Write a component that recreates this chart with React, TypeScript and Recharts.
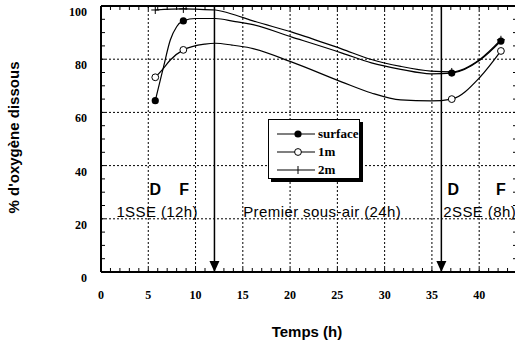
import React from 'react';
import { LineChart, Line, XAxis, YAxis, ReferenceLine, ReferenceDot, Legend } from 'recharts';

// Measurement times (marked points)
const markerTimes = [5.74, 8.71, 37.1, 42.3];

// Curves
const surfaceTimes = [5.74, 6.62, 7.33, 8.0, 8.71, 10.0, 12.1, 14.2, 15.8, 20.2, 25.5, 28.6, 31.7, 34.9, 37.1, 40.1, 42.3];
const surfaceValues = [64.4, 77.2, 87.2, 92.2, 94.4, 95.3, 95.3, 94.1, 93.2, 88.3, 82.3, 78.6, 76.2, 74.5, 74.8, 79.7, 86.8];

const m1Times = [5.74, 6.45, 7.33, 8.71, 11.0, 12.1, 13.85, 15.8, 20.2, 25.5, 28.6, 31.7, 34.9, 37.1, 40.1, 42.3];
const m1Values = [73.2, 75.9, 79.7, 83.5, 85.7, 86.0, 85.3, 84.2, 78.9, 71.4, 67.3, 64.7, 64.3, 65.0, 73.3, 83.1];

const m2Times = [5.74, 8.71, 10.0, 12.1, 14.2, 15.8, 20.2, 25.5, 28.6, 31.7, 34.9, 37.1, 40.1, 42.3];
const m2Values = [98.5, 98.9, 98.8, 98.5, 96.6, 94.7, 90.2, 83.8, 79.9, 77.3, 75.5, 75.2, 80.0, 87.3];

// Axis ticks
const xMajorTicks = [0, 5, 10, 15, 20, 25, 30, 35, 40];
const xMinorTicks = Array.from({ length: 45 }, (_, i) => i);
const yMajorTicks = [0, 20, 40, 60, 80, 100];
const yMinorTicks = Array.from({ length: 21 }, (_, i) => i * 5);
const xGridValues = [5, 10, 15, 20, 25, 30, 35, 40];
const yGridValues = [20, 40, 60, 80];

// Event markers (arrows)
const arrowTimes = [12, 36];

// Text annotations
const annotationTimes = [5.74, 8.8, 5.94, 23.4, 40.05, 37.25, 42.3];
const annotationValues = [31.2, 31.2, 22.6, 22.6, 22.6, 31.2, 31.2];
const annotationTexts = ['D', 'F', '1SSE (12h)', 'Premier sous-air (24h)', '2SSE (8h)', 'D', 'F'];

const seriesNames = ['surface', '1m', '2m'];

const build = (ts: number[], vs: number[]) => ts.map((t, i) => ({ t, v: vs[i] }));
const surfaceData = build(surfaceTimes, surfaceValues);
const m1Data = build(m1Times, m1Values);
const m2Data = build(m2Times, m2Values);

const SANS = '"Liberation Sans", Arial, sans-serif';
const SERIF = '"Liberation Serif", "Times New Roman", serif';

const isMarker = (t: number) => markerTimes.some((m) => Math.abs(m - t) < 0.01);

const makeDot = (kind: string) => (props: any) => {
  const { cx, cy, payload, index } = props;
  const key = `${kind}-${index}`;
  if (!payload || !isMarker(payload.t)) return <g key={key} />;
  if (kind === 'filled') return <circle key={key} cx={cx} cy={cy} r={3.6} fill="#000" />;
  if (kind === 'open') return <circle key={key} cx={cx} cy={cy} r={3.4} fill="#fff" stroke="#000" strokeWidth={1} />;
  return (
    <path key={key} d={`M${cx - 4},${cy}H${cx + 4}M${cx},${cy - 4}V${cy + 4}`} stroke="#000" strokeWidth={1} />
  );
};

const XTick = (props: any) => {
  const { x, y, payload } = props;
  if (!xMajorTicks.includes(payload.value)) return <g />;
  return (
    <text x={x} y={y + 31} textAnchor="middle" style={{ fontFamily: SERIF }} fontWeight="bold" fontSize={12} fill="#000">
      {payload.value}
    </text>
  );
};

const YTick = (props: any) => {
  const { x, y, payload } = props;
  if (!yMajorTicks.includes(payload.value)) return <g />;
  return (
    <text x={x - 18} y={y + 10} textAnchor="end" style={{ fontFamily: SERIF }} fontWeight="bold" fontSize={12} fill="#000">
      {payload.value}
    </text>
  );
};

const NoTick = () => <g />;

const YTitle = (props: any) => {
  const vb = props.viewBox || { x: 0, y: 0, height: 0 };
  const cx = vb.x + 19;
  const cy = vb.y + vb.height / 2 - 1.5;
  return (
    <text
      x={cx}
      y={cy}
      transform={`rotate(-90, ${cx}, ${cy})`}
      textAnchor="middle"
      style={{ fontFamily: SANS }}
      fontWeight="bold"
      fontSize={15}
      fill="#000"
    >
      % d'oxygène dissous
    </text>
  );
};

const ArrowHead = (props: any) => {
  const vb = props.viewBox;
  if (!vb) return null;
  const x = vb.x;
  const yb = vb.y + vb.height;
  return <polygon points={`${x - 5},${yb - 11} ${x + 5},${yb - 11} ${x},${yb}`} fill="#000" />;
};

const legendKinds: Record<string, string> = { surface: 'filled', '1m': 'open', '2m': 'plus' };

const LegendMarker = ({ kind }: { kind: string }) => {
  const cx = 29;
  const cy = 9;
  let mark: React.ReactNode = null;
  if (kind === 'filled') mark = <circle cx={cx} cy={cy} r={3.6} fill="#000" />;
  else if (kind === 'open') mark = <circle cx={cx} cy={cy} r={3.4} fill="#fff" stroke="#000" />;
  else mark = <path d={`M${cx},${cy - 4}V${cy + 4}`} stroke="#000" strokeWidth={1} />;
  return (
    <svg width={48} height={18} style={{ display: 'block' }}>
      <line x1={8} y1={cy} x2={46} y2={cy} stroke="#000" strokeWidth={1.2} />
      {mark}
    </svg>
  );
};

const renderLegend = (props: any) => {
  const raw = props.payload && props.payload.length ? props.payload : seriesNames.map((n) => ({ value: n }));
  const payload = [...raw].sort((a: any, b: any) => seriesNames.indexOf(a.value) - seriesNames.indexOf(b.value));
  return (
    <div
      style={{
        border: '1.5px solid #000',
        boxShadow: '3px 3px 0 #000',
        background: '#fff',
        width: 92,
        height: 60,
        boxSizing: 'border-box',
        paddingTop: 5,
      }}
    >
      {payload.map((p: any) => (
        <div key={p.value} style={{ display: 'flex', alignItems: 'center', height: 18 }}>
          <LegendMarker kind={legendKinds[p.value]} />
          <span style={{ fontFamily: SERIF, fontWeight: 'bold', fontSize: 13, marginLeft: 1, lineHeight: '18px', color: '#000' }}>
            {p.value}
          </span>
        </div>
      ))}
    </div>
  );
};

export default function App() {
  return (
    <div style={{ position: 'absolute', left: 0, top: 0, width: 515, height: 344, overflow: 'hidden', background: '#fff' }}>
      <LineChart width={520} height={344} margin={{ top: 5, right: 2, bottom: 0, left: 0 }}>
        {xGridValues.map((v) => (
          <ReferenceLine key={`gx-${v}`} x={v} stroke="#000" strokeWidth={1} strokeDasharray="2 2" />
        ))}
        {yGridValues.map((v) => (
          <ReferenceLine key={`gy-${v}`} y={v} stroke="#000" strokeWidth={1} strokeDasharray="2 2" />
        ))}
        <XAxis
          type="number"
          dataKey="t"
          domain={[0, 44]}
          allowDataOverflow
          ticks={xMinorTicks}
          interval={0}
          height={72}
          tickSize={-4}
          tickMargin={0}
          tickLine={{ stroke: '#000', strokeWidth: 1 }}
          tick={XTick}
          axisLine={{ stroke: '#000', strokeWidth: 2 }}
          label={{
            value: 'Temps (h)',
            position: 'insideBottom',
            offset: 7,
            fill: '#000',
            fontFamily: SANS,
            fontWeight: 'bold',
            fontSize: 15,
            dx: -2,
          }}
        />
        <XAxis
          xAxisId="top"
          orientation="top"
          height={1}
          type="number"
          dataKey="t"
          domain={[0, 44]}
          allowDataOverflow
          ticks={xMinorTicks}
          interval={0}
          tickSize={-4}
          tickMargin={0}
          tick={NoTick}
          axisLine={{ stroke: '#000', strokeWidth: 2 }}
          tickLine={{ stroke: '#000', strokeWidth: 1 }}
        />
        <YAxis
          type="number"
          domain={[0, 100]}
          allowDataOverflow
          ticks={yMinorTicks}
          interval={0}
          width={101}
          tickSize={-4}
          tickMargin={0}
          tickLine={{ stroke: '#000', strokeWidth: 1 }}
          tick={YTick}
          axisLine={{ stroke: '#000', strokeWidth: 2 }}
          label={<YTitle />}
        />
        <YAxis
          yAxisId="right"
          orientation="right"
          width={1}
          type="number"
          domain={[0, 100]}
          allowDataOverflow
          ticks={yMinorTicks}
          interval={0}
          tickSize={-4}
          tickMargin={0}
          tick={NoTick}
          axisLine={{ stroke: '#000', strokeWidth: 2 }}
          tickLine={{ stroke: '#000', strokeWidth: 1 }}
        />
        {arrowTimes.map((t) => (
          <ReferenceLine key={`arr-${t}`} x={t} stroke="#000" strokeWidth={1.5} label={<ArrowHead />} />
        ))}
        {annotationTexts.map((txt, i) => {
          const single = txt.length === 1;
          return (
            <ReferenceDot
              key={`ann-${i}`}
              x={annotationTimes[i]}
              y={annotationValues[i]}
              r={0}
              fill="none"
              stroke="none"
              label={{
                value: txt,
                position: 'center',
                fill: '#000',
                fontFamily: SANS,
                fontWeight: single ? 'bold' : 'normal',
                fontSize: single ? 16 : 15,
                letterSpacing: single ? 0 : 0.4,
              }}
            />
          );
        })}
        <Line
          name="surface"
          data={surfaceData}
          dataKey="v"
          type="monotone"
          stroke="#000"
          strokeWidth={1.2}
          dot={makeDot('filled')}
          activeDot={false}
          isAnimationActive={false}
        />
        <Line
          name="1m"
          data={m1Data}
          dataKey="v"
          type="monotone"
          stroke="#000"
          strokeWidth={1.2}
          dot={makeDot('open')}
          activeDot={false}
          isAnimationActive={false}
        />
        <Line
          name="2m"
          data={m2Data}
          dataKey="v"
          type="monotone"
          stroke="#000"
          strokeWidth={1.2}
          dot={makeDot('plus')}
          activeDot={false}
          isAnimationActive={false}
        />
        <Legend
          layout="vertical"
          align="center"
          verticalAlign="middle"
          itemSorter={null as any}
          content={renderLegend}
          wrapperStyle={{ left: 268, top: 119, width: 'auto', height: 'auto' }}
        />
      </LineChart>
    </div>
  );
}
